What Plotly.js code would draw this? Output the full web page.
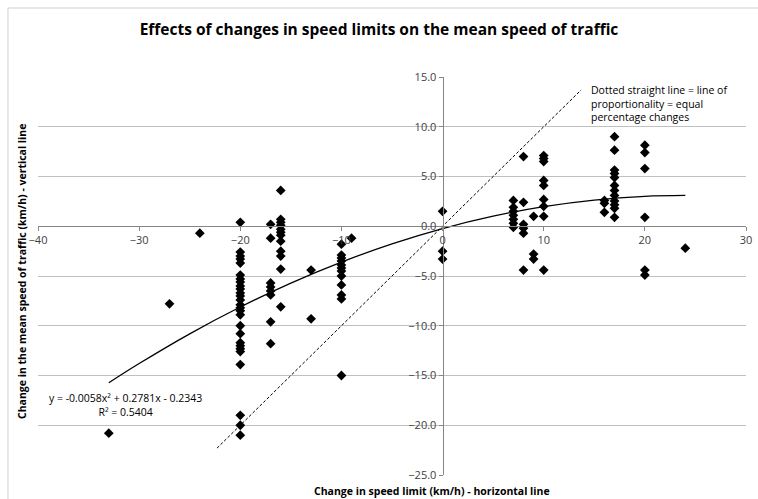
<!DOCTYPE html>
<html>
<head>
<meta charset="utf-8">
<script src="https://cdn.plot.ly/plotly-3.0.1.min.js"></script>
<style>
html,body{margin:0;padding:0;background:#fff;}
#chart{width:758px;height:499px;}
</style>
</head>
<body>
<div id="chart"></div>
<script>
// Observed data: change in speed limit (km/h) vs change in mean speed (km/h)
var speedLimitChange = [
  -33, -27, -24,
  -20,-20,-20,-20,-20,-20,-20,-20,-20,-20,-20,-20,-20,-20,-20,-20,-20,-20,-20,-20,-20,-20,-20,-20,-20,-20,-20,
  -17,-17,-17,-17,-17,-17,-17,-17,
  -16,-16,-16,-16,-16,-16,-16,-16,-16,-16,-16,-16,
  -13,-13,
  -10,-10,-10,-10,-10,-10,-10,-10,-10,-10,-10,-10,
  -9,
  0,0,0,
  7,7,7,7,7,7,7,
  8,8,8,8,8,8,
  9,9,9,
  10,10,10,10,10,10,10,10,10,
  16,16,16,
  17,17,17,17,17,17,17,17,17,17,17,17,
  20,20,20,20,20,20,
  24
];
var meanSpeedChange = [
  -20.8, -7.8, -0.7,
  0.4,-2.6,-3.0,-3.3,-3.7,-4.9,-5.3,-5.6,-6.0,-6.3,-6.7,-7.0,-7.4,-7.9,-8.2,-8.5,-8.9,-10.0,-10.8,-11.7,-12.0,-12.3,-12.6,-13.9,-19.0,-20.0,-21.0,
  0.2,-1.2,-5.7,-6.1,-6.5,-6.9,-9.6,-11.8,
  3.6,0.7,0.4,0.1,-0.3,-0.6,-0.9,-1.5,-2.5,-3.0,-4.3,-8.1,
  -4.4,-9.3,
  -1.8,-2.9,-3.2,-3.5,-3.9,-4.2,-4.5,-5.0,-5.9,-6.9,-7.3,-15.0,
  -1.2,
  1.5,-2.5,-3.3,
  2.6,1.9,1.5,1.1,0.7,0.3,-0.1,
  7.0,2.4,0.2,-0.2,-0.7,-4.4,
  1.0,-2.8,-3.3,
  7.1,6.8,6.5,4.6,4.1,2.7,2.0,1.0,-4.4,
  2.6,2.3,1.4,
  9.0,7.65,5.65,5.3,4.9,4.1,3.6,3.1,2.55,2.15,1.8,0.9,
  8.15,7.4,5.8,0.9,-4.4,-4.9,
  -2.2
];
// Polynomial trend line points
var trendX = [-33, -30, -25, -20, -15, -10, -5, 0, 5, 10, 15, 20, 24];
var trendY = [-15.73, -13.80, -10.81, -8.12, -5.71, -3.60, -1.77, -0.23, 1.01, 1.97, 2.63, 3.01, 3.10];
// Dotted line of proportionality
var propX = [-22.3, 13.7];
var propY = [-22.3, 13.7];

var titleText = "Effects of changes in speed limits on the mean speed of traffic";
var xTitle = "Change in speed limit (km/h) - horizontal line";
var yTitle = "Change in the mean speed of traffic (km/h) - vertical line";
var eqText = "y = -0.0058x² + 0.2781x - 0.2343<br>R² = 0.5404";
var noteText = "Dotted straight line = line of<br>proportionality = equal<br>percentage changes";

var FONT = "Open Sans, Noto Sans, sans-serif";

var traces = [
  {
    x: speedLimitChange, y: meanSpeedChange, type: 'scatter', mode: 'markers',
    marker: {symbol: 'diamond', size: 7.5, color: '#000000'},
    hoverinfo: 'x+y', showlegend: false
  },
  {
    x: trendX, y: trendY, type: 'scatter', mode: 'lines',
    line: {color: '#000000', width: 1.3, shape: 'spline'},
    hoverinfo: 'skip', showlegend: false
  },
  {
    x: propX, y: propY, type: 'scatter', mode: 'lines',
    line: {color: '#000000', width: 1, dash: '3px,2px'},
    hoverinfo: 'skip', showlegend: false
  }
];

var layout = {
  width: 758, height: 499,
  margin: {l: 38, r: 12, t: 77, b: 24},
  paper_bgcolor: '#ffffff', plot_bgcolor: '#ffffff',
  font: {family: FONT, size: 11, color: '#404040'},
  showlegend: false,
  title: {
    text: '<b>' + titleText + '</b>',
    font: {family: FONT, size: 15.5, color: '#000000'},
    x: 0.5, xref: 'container', xanchor: 'center',
    y: 0.94, yref: 'container', yanchor: 'middle'
  },
  xaxis: {
    range: [-40, 30], dtick: 10, tick0: 0,
    anchor: 'free', position: 0.625,
    showgrid: false, zeroline: false,
    showline: true, linecolor: '#868686', linewidth: 1,
    ticks: 'outside', ticklen: 4, tickcolor: '#868686',
    tickfont: {family: FONT, size: 11, color: '#404040'},
    fixedrange: true
  },
  yaxis: {
    range: [-25, 15], dtick: 5, tick0: 0, tickformat: '.1f',
    anchor: 'free', position: 40/70,
    showgrid: true, gridcolor: '#c0c0c0', gridwidth: 1,
    zeroline: false,
    showline: true, linecolor: '#868686', linewidth: 1,
    ticks: 'outside', ticklen: 4, tickcolor: '#868686',
    tickfont: {family: FONT, size: 11, color: '#404040'},
    fixedrange: true
  },
  annotations: [
    {
      text: '<b>' + xTitle + '</b>', xref: 'paper', yref: 'paper',
      x: 0.5565, y: -0.040, xanchor: 'center', yanchor: 'middle',
      showarrow: false, font: {family: FONT, size: 10.5, color: '#000000'}
    },
    {
      text: '<b>' + yTitle + '</b>', xref: 'paper', yref: 'paper',
      x: -0.0226, y: 0.5126, xanchor: 'center', yanchor: 'middle', textangle: -90,
      showarrow: false, font: {family: FONT, size: 10.5, color: '#000000'}
    },
    {
      text: eqText, xref: 'paper', yref: 'paper',
      x: 0.1229, y: 0.176, xanchor: 'center', yanchor: 'middle', align: 'center',
      showarrow: false, font: {family: FONT, size: 10.5, color: '#000000'}
    },
    {
      text: noteText, xref: 'paper', yref: 'paper',
      x: 0.778, y: 0.99, xanchor: 'left', yanchor: 'top', align: 'left',
      showarrow: false, font: {family: FONT, size: 10.5, color: '#000000'}
    }
  ],
  shapes: [
    {
      type: 'rect', xref: 'paper', yref: 'paper',
      x0: -0.0424, x1: 1.05, y0: -0.08, y1: 1.1734,
      line: {color: '#d0d0d0', width: 1}, fillcolor: 'rgba(0,0,0,0)', layer: 'below'
    }
  ]
};

Plotly.newPlot('chart', traces, layout, {displayModeBar: false, staticPlot: true});
</script>
</body>
</html>
